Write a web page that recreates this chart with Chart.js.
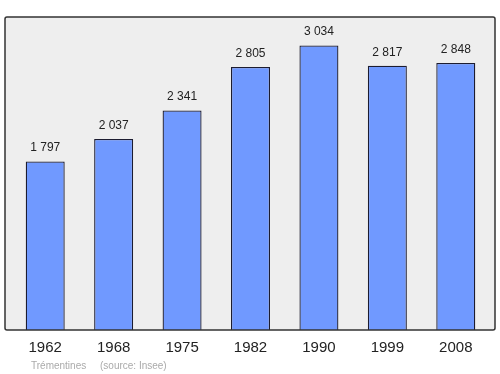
<!DOCTYPE html>
<html>
<head>
<meta charset="utf-8">
<script src="https://cdn.jsdelivr.net/npm/chart.js@4"></script>
<style>
   html, body { margin: 0; padding: 0; background: #ffffff; }
   #chart1 { display: block; }
</style>
</head>
<body>
<canvas id="chart1" width="500" height="374"></canvas>
<script>
const years = ["1962", "1968", "1975", "1982", "1990", "1999", "2008"];
const population = [1797, 2037, 2341, 2805, 3034, 2817, 2848];
const commune = "Trémentines";
const source = "(source: Insee)";

const fontFamily = `"Liberation Sans", Arial, sans-serif`;

function formatNumber(n) {
   return String(n).replace(/\B(?=(\d{3})+(?!\d))/g, " ");
}

// grey box behind the bars, border drawn after the bars
const frame = {
   id: "frame",
   beforeDatasetsDraw(chart) {
      const ctx = chart.ctx;
      ctx.save();
      ctx.fillStyle = "#eeeeee";
      ctx.beginPath();
      ctx.roundRect(5, 17, 490, 313, 2);
      ctx.fill();
      ctx.restore();
   },
   afterDatasetsDraw(chart) {
      const ctx = chart.ctx;
      const meta = chart.getDatasetMeta(0);
      ctx.save();
      ctx.strokeStyle = "#333333";
      ctx.lineWidth = 1.5;
      ctx.beginPath();
      ctx.roundRect(5, 17, 490, 313, 2);
      ctx.stroke();

      ctx.fillStyle = "#222222";
      ctx.font = `12px ${fontFamily}`;
      ctx.textAlign = "center";
      ctx.textBaseline = "alphabetic";
      meta.data.forEach((bar, i) => {
         ctx.fillText(formatNumber(population[i]), bar.x, bar.y - 10);
      });

      ctx.fillStyle = "#aaaaaa";
      ctx.font = `10px ${fontFamily}`;
      ctx.textAlign = "left";
      ctx.fillText(commune, 31, 369);
      ctx.fillText(source, 100, 369);
      ctx.restore();
   }
};

const config = {
   type: "bar",
   data: {
      labels: years,
      datasets: [{
         data: population,
         backgroundColor: "rgb(112, 153, 255)",
         borderColor: "#1c1c30",
         borderWidth: 1.3,
         borderSkipped: "start",
         categoryPercentage: 1,
         barPercentage: 0.57
      }]
   },
   options: {
      responsive: false,
      animation: false,
      layout: {
         padding: { left: 11, right: 10, top: 17, bottom: 0 }
      },
      plugins: {
         legend: { display: false },
         tooltip: { enabled: false }
      },
      scales: {
         x: {
            grid: { display: false },
            border: { display: false },
            ticks: {
               color: "#222222",
               font: { size: 15, family: fontFamily },
               padding: 1,
               maxRotation: 0
            },
            afterFit: (scale) => { scale.height = 44; }
         },
         y: {
            display: false,
            min: 0,
            max: 3337.4
         }
      }
   },
   plugins: [frame]
};

const chart = new Chart(document.querySelector("#chart1"), config);
</script>
</body>
</html>
